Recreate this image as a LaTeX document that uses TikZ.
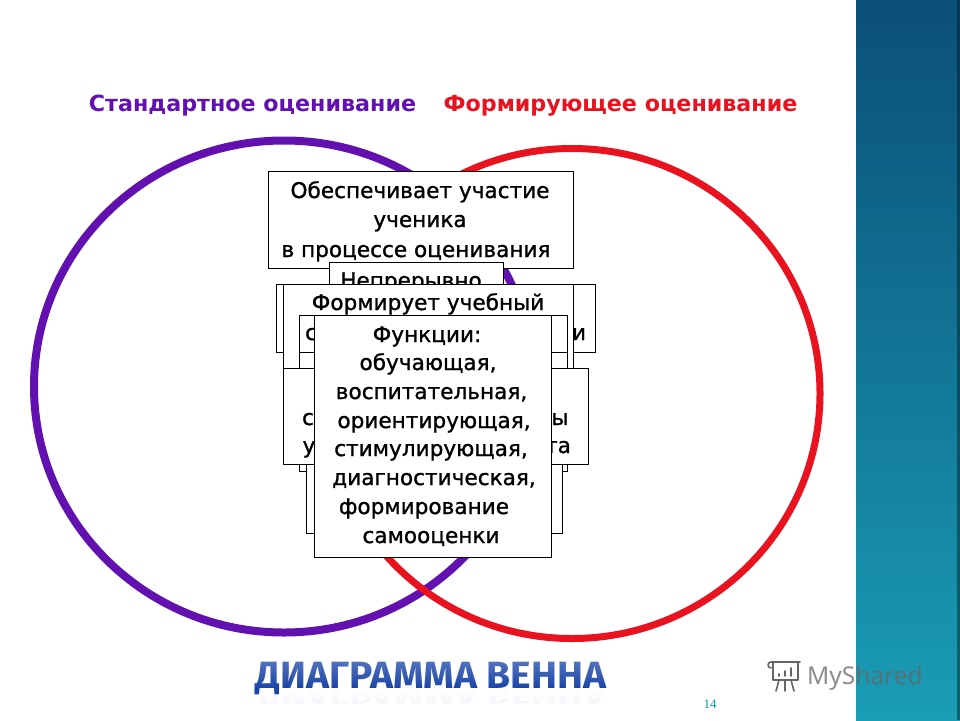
\documentclass[tikz,border=0pt]{standalone}
\usepackage{fontspec}
\setmainfont{Noto Sans}
\newfontfamily\boxfont[FakeBold=1.1]{DejaVu Sans}
\newfontfamily\headfont{DejaVu Sans}
\newfontfamily\titlefont{Fira Sans}
\newfontfamily\numfont{Liberation Serif}
\usetikzlibrary{fadings}
\definecolor{vpurple}{HTML}{6210B0}
\definecolor{vred}{HTML}{E8131F}
\definecolor{sidetop}{HTML}{0B4F78}
\definecolor{sidebot}{HTML}{1A9DB5}
\definecolor{titleblue}{HTML}{1A45A8}
\tikzfading[name=fadeTitle, top color=transparent!70, bottom color=transparent!100]
\tikzset{
  card/.style={draw=black, line width=0.7pt, fill=white, inner sep=0pt, outer sep=0pt},
  txt/.style={font=\boxfont\fontsize{21.6}{24}\selectfont, anchor=base, inner sep=0pt, text=black},
  headtxt/.style={font=\headfont\bfseries\fontsize{22.2}{25}\selectfont, anchor=base, inner sep=0pt},
  titletxt/.style={font=\titlefont\bfseries\fontsize{38}{42}\selectfont, anchor=base, inner sep=0pt},
}
\begin{document}
\begin{tikzpicture}[x=1pt,y=-1pt]
\useasboundingbox (0,0) rectangle (960,720);
\fill[white] (0,0) rectangle (960,720);
% side band
\shade[top color=sidetop, bottom color=sidebot] (856,0) rectangle (960,720);
\fill[black!70!sidetop, opacity=.45] (957,0) rectangle (960,720);
% circles
\draw[vpurple, line width=8pt] (284,386.5) ellipse [x radius=250, y radius=246];
\draw[vred, line width=7pt] (572,393.5) ellipse [x radius=248, y radius=245];
% headings
\node[headtxt, text=vpurple] (h1) at (252.5,111) {Стандартное оценивание};
\node[headtxt, text=vred] (h2) at (620.5,111) {Формирующее оценивание};
% cards
\path[card] (268,171) rectangle (573,268);
\node[txt] (a1) at (420,198) {Обеспечивает участие};
\node[txt] (a2) at (420,227) {ученика};
\node[txt] (a3) at (416,257) {в процессе оценивания};
\path[card] (329,262) rectangle (503,300);
\node[txt] (b1) at (411,288) {Непрерывно};
\path[card] (276,284) rectangle (595,352);
\node[txt] (c1) at (579,340) {и};
\path[card] (283,284) rectangle (573,368);
\node[txt] (d1) at (428,310) {Формирует учебный};
\path[card] (299,345) rectangle (567,471);
\path[card] (299,315) rectangle (567,352);
\node[txt] (e1) at (311,340) {с};
\path[card] (283,368) rectangle (588,464);
\node[txt] (f1) at (308,425) {с};
\node[txt] (f2) at (560,425) {ы};
\node[txt] (f3) at (309,453) {у};
\node[txt] (f4) at (558,453) {та};
\path[card] (306,464) rectangle (562,533);
\path[card] (314,315) rectangle (551,557);
\node[txt] (g1) at (427,342) {Функции:};
\node[txt] (g2) at (428,370) {обучающая,};
\node[txt] (g3) at (431.5,399) {воспитательная,};
\node[txt] (g4) at (434,428) {ориентирующая,};
\node[txt] (g5) at (431,456) {стимулирующая,};
\node[txt] (g6) at (434,485) {диагностическая,};
\node[txt] (g7) at (424,514) {формирование};
\node[txt] (g8) at (431,543) {самооценки};
% title
\node[titletxt, text=titleblue!40, xscale=1.025, yscale=-.55, opacity=.2] (t2) at (431,689) {ДИАГРАММА ВЕННА};
\fill[white, path fading=south] (250,689) rectangle (612,712);
\node[titletxt, text=titleblue, xscale=1.025] (t1) at (431,688) {ДИАГРАММА ВЕННА};
\fill[white, path fading=fadeTitle] (250,655) rectangle (612,688);
% page number
\node[font=\numfont\fontsize{13}{15}\selectfont, text=teal!80!cyan, inner sep=0pt] (n1) at (710,704) {14};
% watermark
\node[font=\fontsize{24.5}{27}\selectfont, text=black!60, opacity=.75, anchor=base west, inner sep=0pt] (w1) at (807,684) {MyShared};
\begin{scope}[draw=black!60, line width=1.6pt, line cap=round, line join=round]
  \draw (771,662) -- (800,662);
  \draw (773,662) -- (773,680) -- (798,680) -- (798,662);
  \draw (771,662) .. controls (767,662) and (767,668) .. (771,668);
  \draw (779,680) -- (776,691);
  \draw (785,680) -- (785,691);
  \draw (791,680) -- (794,691);
  \draw (779,676) -- (779,674);
  \draw (785,676) -- (785,671);
  \draw (791,676) -- (791,668);
\end{scope}
\end{tikzpicture}
\end{document}
